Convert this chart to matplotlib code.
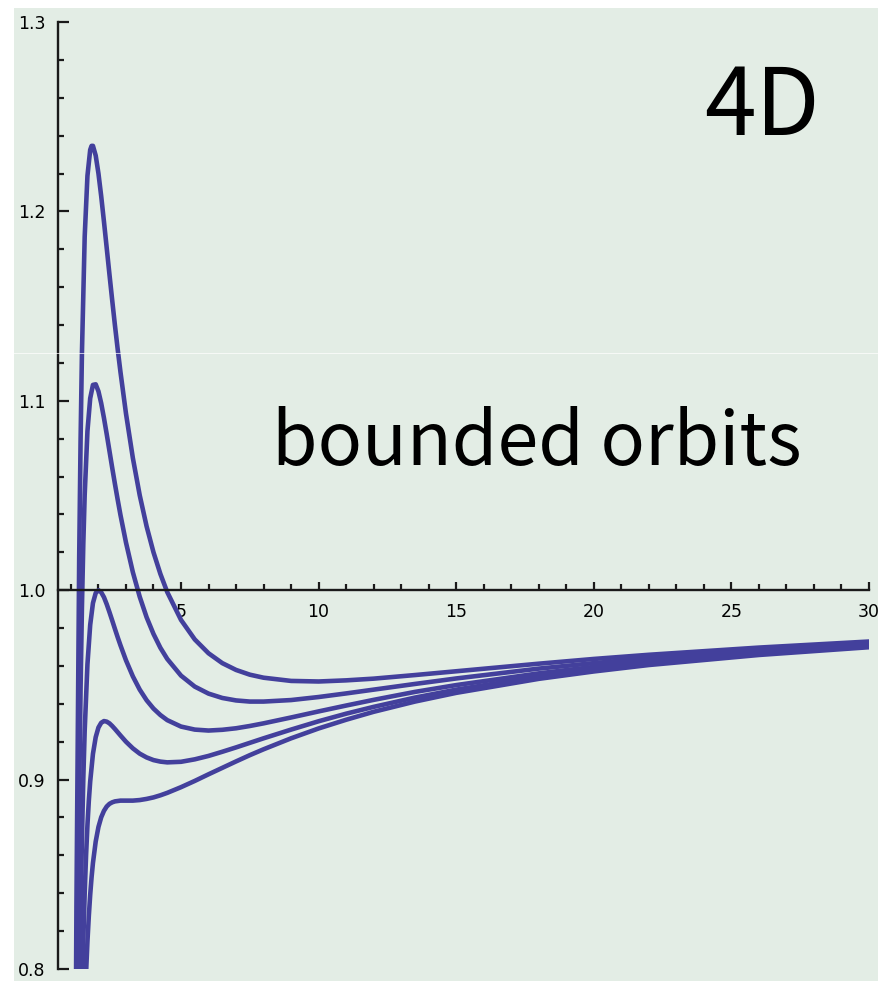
import matplotlib.pyplot as plt
from matplotlib.lines import Line2D
from matplotlib.patches import Rectangle
from matplotlib.ticker import MultipleLocator

# curve values (x, y for each of the five curves)
x_a = [1.1, 1.15, 1.2, 1.3, 1.35, 1.4, 1.5, 1.6, 1.7, 1.75, 1.8, 1.9, 2.0, 2.1, 2.2, 2.3,
       2.4, 2.5, 2.6, 2.7, 2.8, 3.0, 3.25, 3.5, 3.75, 4.0, 4.25, 4.5, 5, 5.5, 6, 6.5, 7,
       7.5, 8, 9, 10, 11, 12, 13.5, 15, 18, 20, 22, 26, 30]
y_a = [0.5237, 0.6985, 0.8333, 1.0173, 1.0787, 1.1254, 1.1867, 1.2188, 1.2325, 1.2346,
       1.2346, 1.2295, 1.2200, 1.2080, 1.1946, 1.1807, 1.1667, 1.1530, 1.1397, 1.1271,
       1.1152, 1.0933, 1.0698, 1.0501, 1.0337, 1.0200, 1.0086, 0.9990, 0.9843, 0.9740,
       0.9667, 0.9615, 0.9579, 0.9554, 0.9538, 0.9521, 0.9518, 0.9524, 0.9533, 0.9552,
       0.9572, 0.9612, 0.9637, 0.9659, 0.9697, 0.9729]

x_b = [1.1, 1.2, 1.25, 1.3, 1.35, 1.4, 1.45, 1.5, 1.6, 1.7, 1.8, 1.9, 2.0, 2.1, 2.2, 2.3,
       2.4, 2.5, 2.6, 2.7, 2.8, 3.0, 3.25, 3.5, 3.75, 4.0, 4.25, 4.5, 5, 5.5, 6, 6.5, 7,
       7.5, 8, 9, 10, 11, 12, 13.5, 15, 18, 20, 22, 26, 30]
y_b = [0.4545, 0.7269, 0.8195, 0.8917, 0.9478, 0.9913, 1.0248, 1.0504, 1.0840, 1.1013,
       1.1084, 1.1087, 1.1050, 1.0987, 1.0909, 1.0824, 1.0735, 1.0646, 1.0560, 1.0477,
       1.0397, 1.0252, 1.0095, 0.9965, 0.9857, 0.9769, 0.9696, 0.9637, 0.9549, 0.9491,
       0.9454, 0.9431, 0.9418, 0.9412, 0.9412, 0.9420, 0.9436, 0.9455, 0.9475, 0.9505,
       0.9534, 0.9586, 0.9615, 0.9641, 0.9684, 0.9719]

x_c = [1.1, 1.2, 1.3, 1.35, 1.4, 1.45, 1.5, 1.6, 1.7, 1.8, 1.9, 2.0, 2.1, 2.2, 2.3, 2.4,
       2.5, 2.6, 2.7, 2.8, 3.0, 3.25, 3.5, 3.75, 4.0, 4.25, 4.5, 5, 5.5, 6, 6.5, 7, 7.5,
       8, 9, 10, 11, 12, 13.5, 15, 18, 20, 22, 26, 30]
y_c = [0.3914, 0.6296, 0.7770, 0.8283, 0.8688, 0.9008, 0.9259, 0.9609, 0.9817, 0.9932,
       0.9985, 1.0000, 0.9989, 0.9963, 0.9926, 0.9884, 0.9840, 0.9795, 0.9751, 0.9709,
       0.9630, 0.9545, 0.9475, 0.9419, 0.9375, 0.9341, 0.9314, 0.9280, 0.9264, 0.9259,
       0.9263, 0.9271, 0.9283, 0.9297, 0.9328, 0.9360, 0.9391, 0.9421, 0.9463, 0.9499,
       0.9561, 0.9595, 0.9624, 0.9672, 0.9710]

x_d = [1.1, 1.2, 1.3, 1.4, 1.45, 1.5, 1.55, 1.6, 1.65, 1.7, 1.8, 1.9, 2.0, 2.1, 2.2, 2.3,
       2.4, 2.5, 2.6, 2.7, 2.8, 3.0, 3.25, 3.5, 3.75, 4.0, 4.25, 4.5, 5, 5.5, 6, 6.5, 7,
       7.5, 8, 9, 10, 11, 12, 13.5, 15, 18, 20, 22, 26, 30]
y_d = [0.3479, 0.5625, 0.6978, 0.7843, 0.8151, 0.8400, 0.8600, 0.8760, 0.8888, 0.8990,
       0.9136, 0.9224, 0.9275, 0.9300, 0.9309, 0.9306, 0.9297, 0.9283, 0.9267, 0.9250,
       0.9233, 0.9200, 0.9165, 0.9137, 0.9117, 0.9103, 0.9095, 0.9091, 0.9094, 0.9107,
       0.9125, 0.9147, 0.9170, 0.9194, 0.9218, 0.9264, 0.9308, 0.9348, 0.9384, 0.9433,
       0.9475, 0.9544, 0.9581, 0.9613, 0.9664, 0.9703]

x_e = [1.1, 1.2, 1.3, 1.4, 1.5, 1.55, 1.6, 1.65, 1.7, 1.75, 1.8, 1.9, 2.0, 2.1, 2.2, 2.3,
       2.4, 2.5, 2.6, 2.7, 2.8, 3.0, 3.25, 3.5, 3.75, 4.0, 4.25, 4.5, 5, 5.5, 6, 6.5, 7,
       7.5, 8, 9, 10, 11, 12, 13.5, 15, 18, 20, 22, 26, 30]
y_e = [0.3163, 0.5139, 0.6404, 0.7230, 0.7778, 0.7979, 0.8145, 0.8280, 0.8392, 0.8484,
       0.8560, 0.8673, 0.8750, 0.8801, 0.8835, 0.8858, 0.8872, 0.8880, 0.8885, 0.8887,
       0.8889, 0.8889, 0.8889, 0.8892, 0.8898, 0.8906, 0.8917, 0.8930, 0.8960, 0.8993,
       0.9028, 0.9062, 0.9096, 0.9129, 0.9160, 0.9218, 0.9270, 0.9316, 0.9358, 0.9412,
       0.9458, 0.9532, 0.9571, 0.9605, 0.9658, 0.9699]

curves = [(x_a, y_a), (x_b, y_b), (x_c, y_c), (x_d, y_d), (x_e, y_e)]

x_major = [5, 10, 15, 20, 25, 30]
y_major = [0.8, 0.9, 1.0, 1.1, 1.2, 1.3]
y_labels = ["0.8", "0.9", "1.0", "1.1", "1.2", "1.3"]

W, H = 879, 981
bg = "#e3ede5"
line_color = "#43409c"
txt_font = ["Noto Sans CJK JP", "DejaVu Sans"]

fig = plt.figure(figsize=(W / 100, H / 100), dpi=100)
fig.patch.set_facecolor("white")
fig.add_artist(Rectangle((14 / W, 0), 1 - 14 / W, (H - 8) / H,
                         transform=fig.transFigure, facecolor=bg, edgecolor="none", zorder=0))

ax = fig.add_axes([58 / W, (H - 969) / H, (869 - 58) / W, (969 - 22) / H])
ax.set_facecolor("none")

for xs, ys in curves:
    ax.plot(xs, ys, color=line_color, lw=3.3, solid_joinstyle="round")

ax.set_xlim(0.53, 30)
ax.set_ylim(0.8, 1.3)

# mathematica style axes: y axis at the left, x axis through 1.0
ax.spines["top"].set_visible(False)
ax.spines["right"].set_visible(False)
ax.spines["bottom"].set_position(("data", 1.0))
for s in ["left", "bottom"]:
    ax.spines[s].set_linewidth(1.7)
    ax.spines[s].set_color("#1a1a1a")

ax.set_xticks(x_major)
ax.set_xticklabels([str(v) for v in x_major])
ax.xaxis.set_minor_locator(MultipleLocator(1))
ax.set_yticks(y_major)
ax.set_yticklabels(y_labels)
ax.yaxis.set_minor_locator(MultipleLocator(0.02))

ax.tick_params(axis="x", which="major", direction="in", length=6, width=1.6,
               pad=9, labelsize=12.5, color="#1a1a1a")
ax.tick_params(axis="x", which="minor", direction="in", length=4.5, width=1.6, color="#1a1a1a")
ax.tick_params(axis="y", which="major", direction="in", length=8, width=1.6,
               pad=9, labelsize=12.5, color="#1a1a1a")
ax.tick_params(axis="y", which="minor", direction="in", length=4.5, width=1.6, color="#1a1a1a")

fig.text(820 / W, (H - 135) / H, "4D", fontsize=67, family=txt_font,
         ha="right", va="baseline")
fig.text(272 / W, (H - 465) / H, "bounded orbits", fontsize=53, family=txt_font,
         ha="left", va="baseline")

# faint seam line in the original image
fig.add_artist(Line2D([0, 1], [(H - 353) / H] * 2, transform=fig.transFigure,
                      color="white", lw=0.7, alpha=0.7, zorder=5))

plt.savefig("out.png", dpi=100, facecolor=fig.get_facecolor())
